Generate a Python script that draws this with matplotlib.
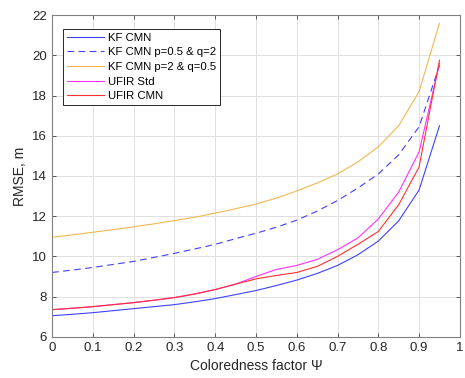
import numpy as np
import matplotlib.pyplot as plt

plt.rcParams['font.family'] = ['Liberation Sans', 'DejaVu Sans']

# coloredness factor
psi = [0, 0.05, 0.1, 0.15, 0.2, 0.25, 0.3, 0.35, 0.4, 0.45,
       0.5, 0.55, 0.6, 0.65, 0.7, 0.75, 0.8, 0.85, 0.9, 0.95]

kf_cmn = [7.05, 7.12, 7.2, 7.3, 7.4, 7.5, 7.6, 7.74, 7.9, 8.1,
          8.3, 8.55, 8.82, 9.15, 9.55, 10.08, 10.76, 11.77, 13.3, 16.5]
kf_p05_q2 = [9.2, 9.32, 9.45, 9.6, 9.75, 9.95, 10.15, 10.37, 10.6, 10.88,
             11.15, 11.45, 11.8, 12.25, 12.78, 13.4, 14.1, 15.05, 16.45, 19.5]
kf_p2_q05 = [10.95, 11.07, 11.2, 11.33, 11.47, 11.62, 11.78, 11.95, 12.15, 12.37,
             12.6, 12.9, 13.25, 13.65, 14.1, 14.7, 15.45, 16.5, 18.2, 21.6]
ufir_std = [7.35, 7.42, 7.5, 7.6, 7.7, 7.82, 7.95, 8.13, 8.35, 8.62,
            9.0, 9.35, 9.55, 9.85, 10.33, 10.92, 11.86, 13.2, 15.2, 19.6]
ufir_cmn = [7.35, 7.42, 7.5, 7.6, 7.7, 7.82, 7.95, 8.13, 8.35, 8.62,
            8.88, 9.05, 9.2, 9.5, 10.0, 10.6, 11.24, 12.57, 14.45, 19.76]

fig = plt.figure(figsize=(4.65, 3.78), dpi=100)
ax = fig.add_axes([0.112, 0.109, 0.877, 0.851])

ax.plot(psi, kf_cmn, '-', color='#4040ff', lw=0.8, label='KF CMN')
ax.plot(psi, kf_p05_q2, '--', color='#4040ff', lw=0.8, dashes=(6, 4), label='KF CMN p=0.5 & q=2')
ax.plot(psi, kf_p2_q05, '-', color='#f0b850', lw=0.8, label='KF CMN p=2 & q=0.5')
ax.plot(psi, ufir_std, '-', color='#ff30ff', lw=0.8, label='UFIR Std')
ax.plot(psi, ufir_cmn, '-', color='#ff3030', lw=0.8, label='UFIR CMN')

ax.set_xlim(0, 1)
ax.set_ylim(6, 22)
ax.set_xticks(np.arange(0, 1.01, 0.1))
ax.set_xticklabels(['0', '0.1', '0.2', '0.3', '0.4', '0.5', '0.6', '0.7', '0.8', '0.9', '1'])
ax.set_yticks(range(6, 23, 2))
ax.grid(True, color='#e0e0e0', lw=0.7)
ax.set_axisbelow(True)
for s in ax.spines.values():
    s.set_color('#808080')
    s.set_linewidth(0.8)
ax.tick_params(colors='#404040', labelsize=9.5, direction='in', length=3, width=0.6)
ax.tick_params(axis='both', which='both', top=True, right=True)
for lab in ax.get_xticklabels() + ax.get_yticklabels():
    lab.set_color('#262626')

ax.set_xlabel('Coloredness factor \u03a8', fontsize=10, color='#262626')
ax.set_ylabel('RMSE, m', fontsize=10, color='#262626')

leg = ax.legend(loc='upper left', fontsize=8.2, frameon=True, fancybox=False,
                borderpad=0.35, labelspacing=0.4, handlelength=3.3, handletextpad=0.3,
                bbox_to_anchor=(0.012, 0.975))
leg.get_frame().set_edgecolor('#262626')
leg.get_frame().set_linewidth(0.7)
leg.get_frame().set_alpha(1)

fig.savefig('out.png', dpi=100)
plt.close()
